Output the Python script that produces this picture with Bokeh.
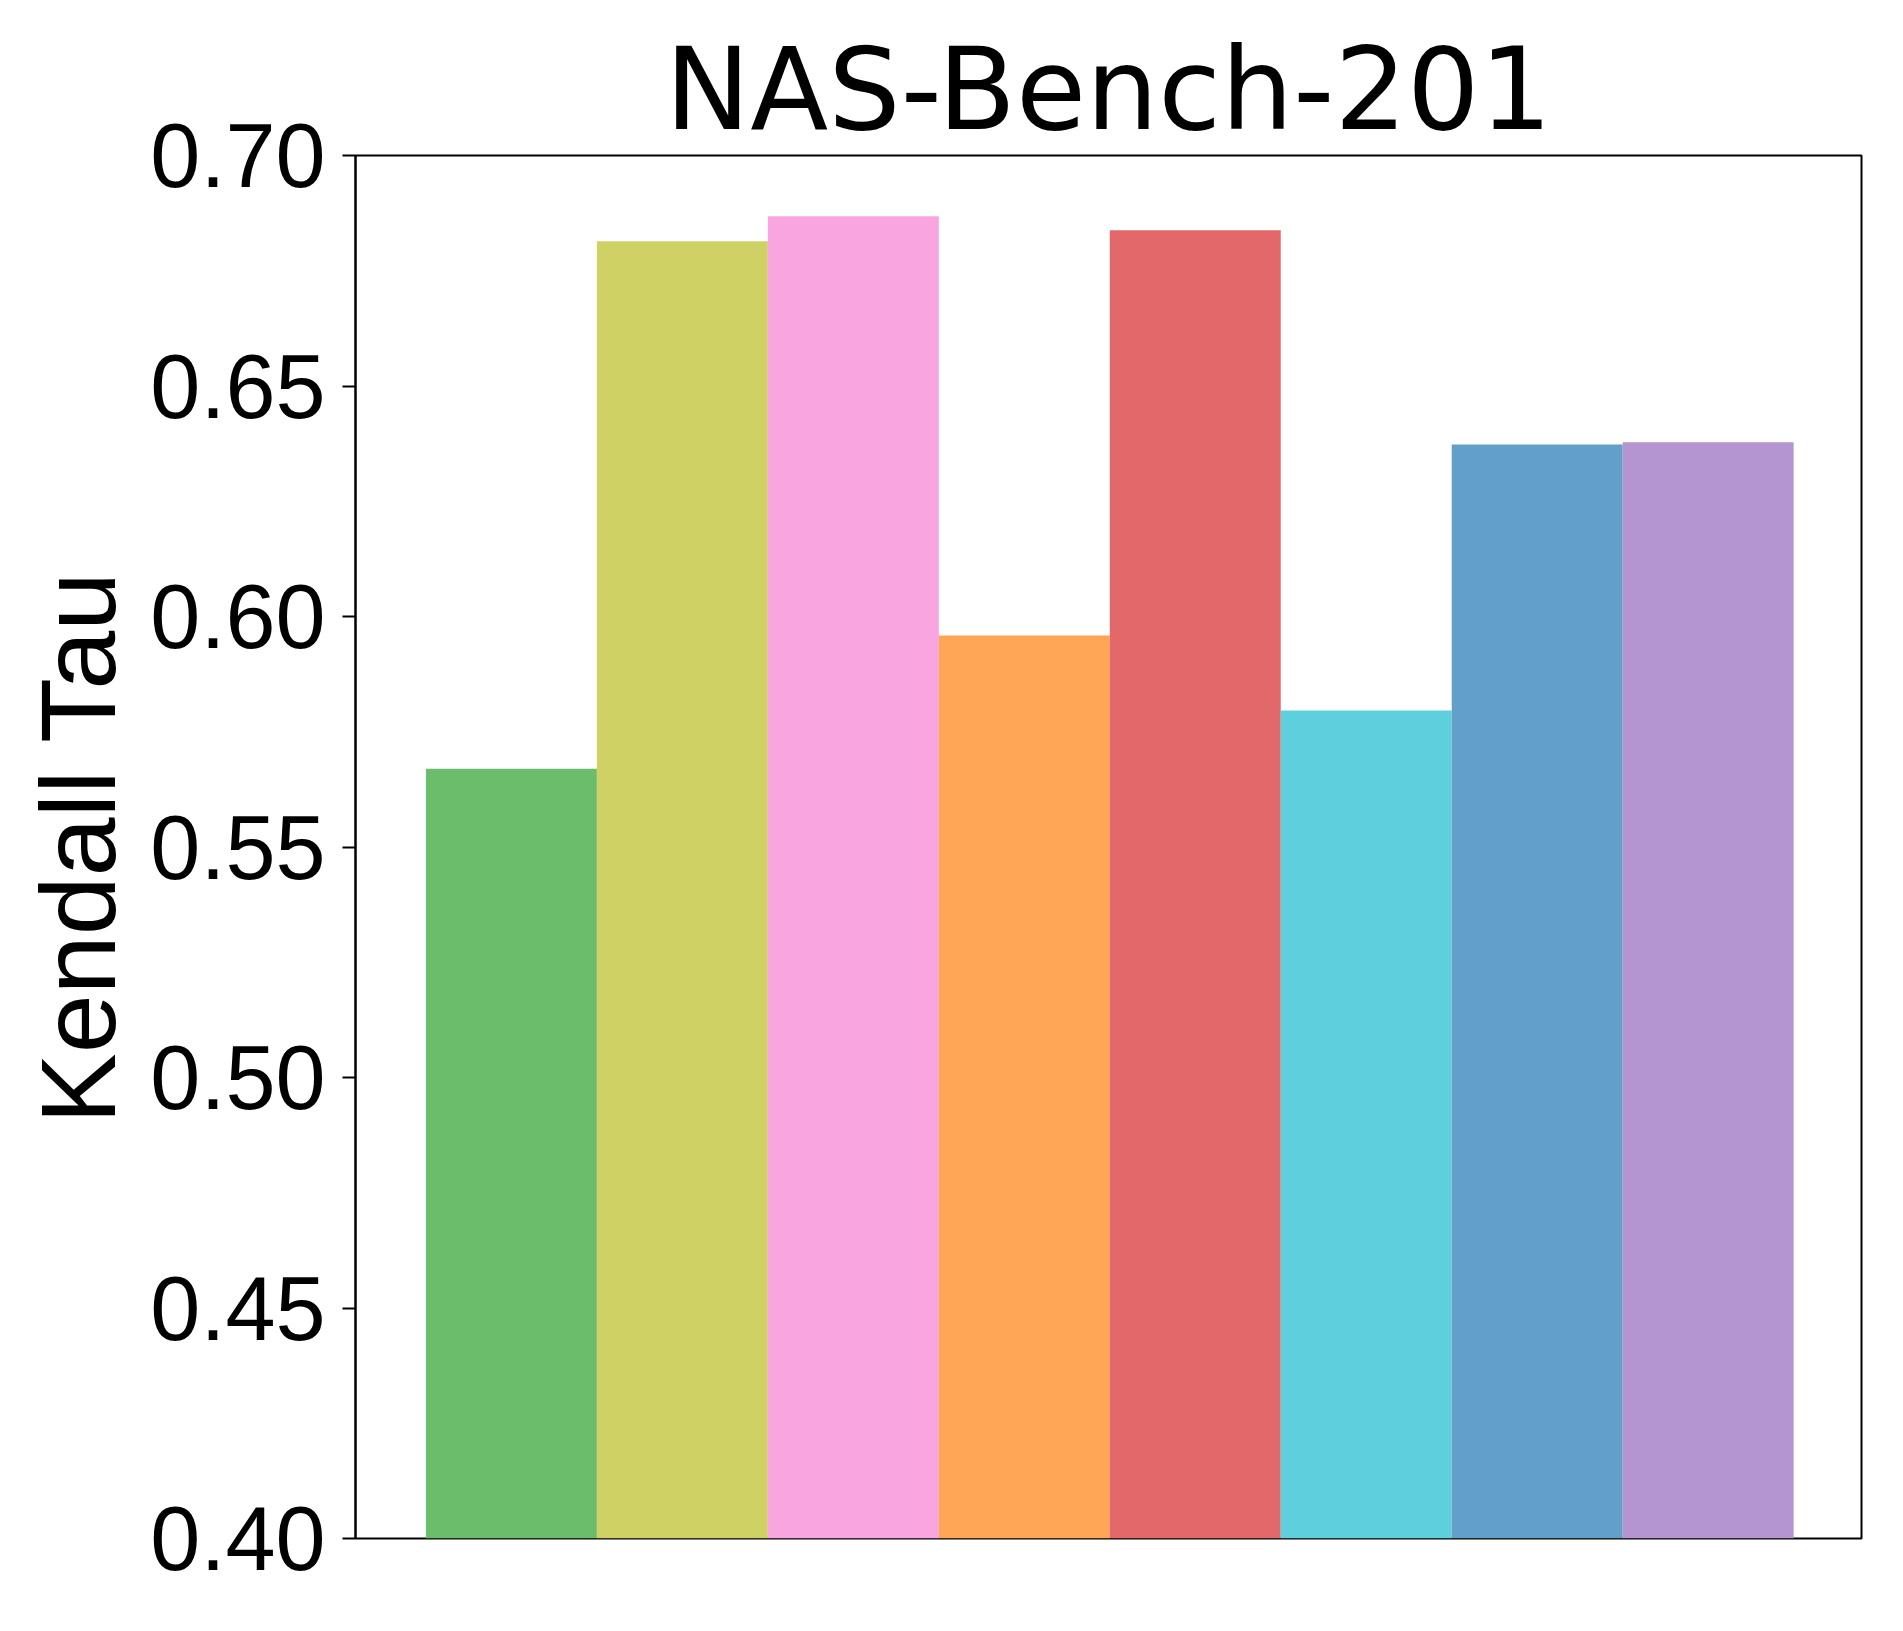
from bokeh.plotting import figure
from bokeh.models import Range1d, FixedTicker, CustomJSTickFormatter, ColumnDataSource
from bokeh.embed import file_html
from bokeh.resources import INLINE

# Data
bar_index = [0, 1, 2, 3, 4, 5, 6, 7]
kendall_tau = [0.567, 0.6814, 0.6868, 0.5959, 0.6838, 0.5796, 0.6373, 0.6378]
bar_colors = ["#6bbc6b", "#d0d164", "#f9a6e0", "#ffa556", "#e2686a",
              "#5dcfdd", "#62a0ca", "#b495d1"]
y_ticks = [0.40, 0.45, 0.50, 0.55, 0.60, 0.65, 0.70]
y_tick_labels = ["0.40", "0.45", "0.50", "0.55", "0.60", "0.65", "0.70"]

src = ColumnDataSource(dict(x=bar_index, top=kendall_tau, color=bar_colors))

p = figure(width=1895, height=1623, output_backend="svg", toolbar_location=None,
           x_range=Range1d(-0.912, 7.897), y_range=Range1d(0.40, 0.70),
           title="NAS-Bench-201")
p.min_border_left = 355
p.min_border_right = 34
p.min_border_top = 155
p.min_border_bottom = 85

p.vbar(x="x", top="top", bottom=0.40, width=1.0, fill_color="color",
       line_color=None, source=src)

p.title.text_font = "DejaVu Sans"
p.title.text_font_size = "114px"
p.title.text_font_style = "normal"
p.title.align = "center"
p.title.text_color = "black"
p.title.standoff = 0

p.xgrid.visible = False
p.ygrid.visible = False
p.xaxis.visible = False

p.outline_line_color = "black"
p.outline_line_width = 2
p.outline_line_alpha = 1.0

ax = p.yaxis[0]
ax.ticker = FixedTicker(ticks=y_ticks)
ax.formatter = CustomJSTickFormatter(
    args=dict(lbl=y_tick_labels, tv=y_ticks),
    code="""
    for (let i = 0; i < tv.length; i++) {
        if (Math.abs(tv[i] - tick) < 1e-6) return lbl[i];
    }
    return tick.toFixed(2);
    """)
ax.major_label_text_font = "Liberation Sans"
ax.major_label_text_font_size = "90px"
ax.major_label_text_color = "black"
ax.major_label_standoff = 17
ax.major_tick_out = 13
ax.major_tick_in = 0
ax.major_tick_line_width = 2
ax.major_tick_line_color = "black"
ax.minor_tick_out = 0
ax.minor_tick_in = 0
ax.axis_line_width = 2
ax.axis_line_color = "black"
ax.axis_label = "Kendall Tau"
ax.axis_label_text_font = "Liberation Sans"
ax.axis_label_text_font_size = "106px"
ax.axis_label_text_font_style = "normal"
ax.axis_label_text_color = "black"
ax.axis_label_standoff = 10

open("out.html", "w").write(file_html(p, INLINE))
